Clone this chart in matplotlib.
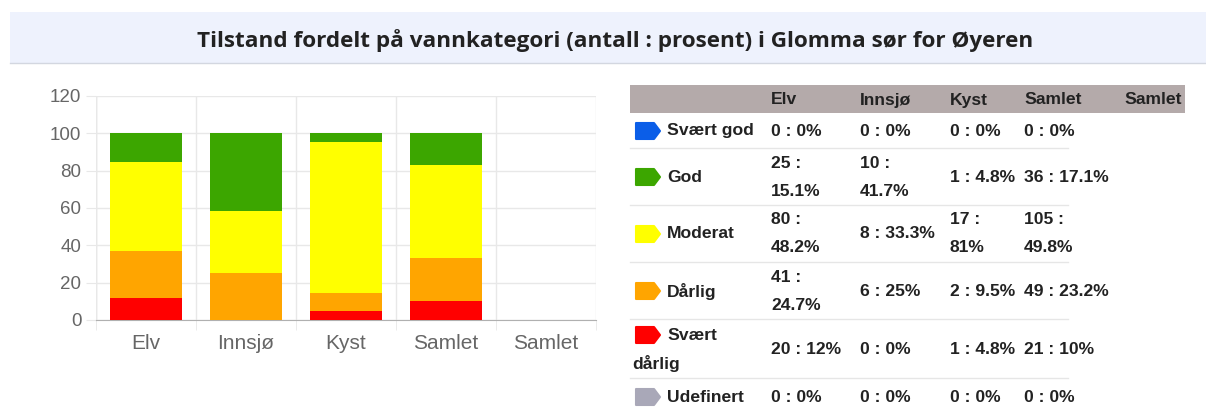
import numpy as np
import matplotlib
matplotlib.use("Agg")
import matplotlib.pyplot as plt
from matplotlib.patches import Rectangle, Polygon

## data
title = "Tilstand fordelt på vannkategori (antall : prosent) i Glomma sør for Øyeren"
categories = ["Elv", "Innsjø", "Kyst", "Samlet", "Samlet"]
table_cols = ["Elv", "Innsjø", "Kyst", "Samlet"]

levels = ["Svært god", "God", "Moderat", "Dårlig", "Svært dårlig", "Udefinert"]
level_colors = ["#0b5ee8", "#3ca600", "#ffff00", "#ffa500", "#ff0000", "#a9a8b8"]

# antall per kategori (Elv, Innsjø, Kyst, Samlet)
svaert_god = [0, 0, 0, 0]
god = [25, 10, 1, 36]
moderat = [80, 8, 17, 105]
darlig = [41, 6, 2, 49]
svaert_darlig = [20, 0, 1, 21]
udefinert = [0, 0, 0, 0]

# prosent per kategori
svaert_god_pct = [0, 0, 0, 0]
god_pct = [15.1, 41.7, 4.8, 17.1]
moderat_pct = [48.2, 33.3, 81, 49.8]
darlig_pct = [24.7, 25, 9.5, 23.2]
svaert_darlig_pct = [12, 0, 4.8, 10]
udefinert_pct = [0, 0, 0, 0]

counts = [svaert_god, god, moderat, darlig, svaert_darlig, udefinert]
pcts = [svaert_god_pct, god_pct, moderat_pct, darlig_pct, svaert_darlig_pct, udefinert_pct]

W, H = 1206, 408
fig = plt.figure(figsize=(W / 100, H / 100), dpi=100)

## bakgrunn / tabell i pikselkoordinater
bg = fig.add_axes([0, 0, 1, 1])
bg.set_xlim(0, W)
bg.set_ylim(H, 0)
bg.axis("off")

# tittelbanner
bg.add_patch(Rectangle((10, 12), W - 10, 51, facecolor="#eef2fd", edgecolor="none"))
bg.plot([10, W], [63, 63], color="#d3d7e0", lw=1)
bg.text(615, 41, title, ha="center", va="center", fontsize=16.2, fontweight="bold",
        family="Open Sans", color="#222222")

# tabell
tfont = dict(family="Liberation Sans", fontsize=12.6, color="#222222", fontweight="bold")
col_x = [771, 860, 950, 1024]
bg.add_patch(Rectangle((630, 85), 555, 28, facecolor="#b4aaaa", edgecolor="none"))
for x, c in zip(col_x + [1124], table_cols + ["Samlet"]):
    bg.text(x, 100, c, ha="left", va="center", **tfont)

row_y = [131, 177, 234, 291, 349, 397]
sep_y = [148, 205, 262, 319, 378]
for y in sep_y:
    bg.plot([630, 1068], [y, y], color="#e6e6e6", lw=1)

# celler som brytes over to linjer
wrapped = {(1, 0), (1, 1), (2, 0), (2, 2), (2, 3), (3, 0)}


def icon(x, y, color):
    w, h = 24, 16
    pts = [(x, y - h / 2), (x + w - 6, y - h / 2), (x + w, y), (x + w - 6, y + h / 2), (x, y + h / 2)]
    bg.add_patch(Polygon(pts, closed=True, facecolor=color, edgecolor=color,
                         lw=1.5, joinstyle="round"))


for i, lev in enumerate(levels):
    y = row_y[i]
    if lev == "Svært dårlig":
        icon(636, y - 14, level_colors[i])
        bg.text(667, y - 14, "Svært", ha="left", va="center", **tfont)
        bg.text(632, y + 14, "dårlig", ha="left", va="center", **tfont)
    else:
        icon(636, y, level_colors[i])
        bg.text(667, y, lev, ha="left", va="center", **tfont)
    for j in range(len(table_cols)):
        n = counts[i][j]
        p = pcts[i][j]
        if (i, j) in wrapped:
            bg.text(col_x[j], y - 14, f"{n} :", ha="left", va="center", **tfont)
            bg.text(col_x[j], y + 14, f"{p:g}%", ha="left", va="center", **tfont)
        else:
            bg.text(col_x[j], y, f"{n} : {p:g}%", ha="left", va="center", **tfont)

## stablet stolpediagram
ax = fig.add_axes([96 / W, (H - 320) / H, 500 / W, 224 / H])
x = np.arange(len(categories))
bottom = np.zeros(len(categories))
# tegnes nedenfra: svært dårlig, dårlig, moderat, god, svært god
for i in [4, 3, 2, 1, 0]:
    vals = np.array(pcts[i] + [0])
    ax.bar(x, vals, width=0.72, bottom=bottom, color=level_colors[i], zorder=3)
    bottom += vals

ax.set_xlim(-0.5, len(categories) - 0.5)
ax.set_ylim(0, 120)
ax.set_yticks(np.arange(0, 121, 20))
ax.set_xticks(x)
ax.set_xticklabels(categories)
ax.set_xticks(np.arange(-0.5, len(categories), 1), minor=True)
ax.grid(axis="y", which="major", color="#e8e8e8", lw=1, zorder=0)
ax.grid(axis="x", which="minor", color="#e8e8e8", lw=1, zorder=0)
ax.tick_params(axis="x", which="major", length=0, pad=10, labelsize=15, labelcolor="#666666")
ax.tick_params(axis="x", which="minor", length=7.5, color="#e8e8e8")
ax.tick_params(axis="y", length=7.5, color="#e8e8e8", pad=3, labelsize=13.5, labelcolor="#666666")
for lab in ax.get_xticklabels() + ax.get_yticklabels():
    lab.set_family("Liberation Sans")
for s in ["top", "right", "left"]:
    ax.spines[s].set_visible(False)
ax.spines["bottom"].set_color("#b0b0b0")
ax.axvline(-0.5, color="#d8d8d8", lw=1, zorder=1)

fig.savefig("out.png", dpi=100)
